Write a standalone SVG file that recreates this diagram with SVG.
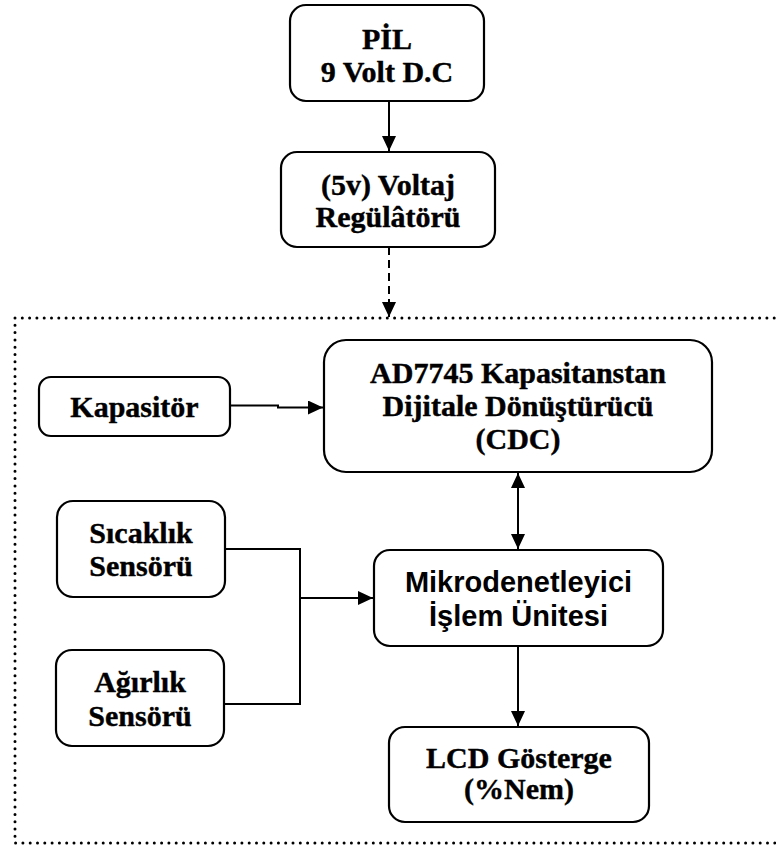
<svg xmlns="http://www.w3.org/2000/svg" width="776" height="845" viewBox="0 0 776 845">
<style>
.box{fill:#fff;stroke:#000;stroke-width:2.2}
.t{font-family:"Liberation Serif","Times New Roman",serif;font-weight:bold;font-size:30px;text-anchor:middle;fill:#000;stroke:#000;stroke-width:0.4}
.a{font-family:"Liberation Sans",Arial,sans-serif;font-weight:bold;font-size:29px;text-anchor:middle;fill:#000}
.c{fill:none;stroke:#000;stroke-width:2}
</style>
<defs>
<marker id="ah" markerUnits="userSpaceOnUse" markerWidth="16" markerHeight="14" refX="15" refY="7" orient="auto-start-reverse">
<path d="M0,0 L15,7 L0,14 Z" fill="#000"/>
</marker>
</defs>
<rect x="0" y="0" width="776" height="845" fill="#fff"/>
<path d="M15,318 H776 M15,318 V843 H776" fill="none" stroke="#000" stroke-width="3" stroke-linecap="round" stroke-dasharray="0 7.3"/>
<g id="connectors">
<line class="c" x1="389" y1="101" x2="389" y2="151" marker-end="url(#ah)"/>
<line class="c" x1="389" y1="247" x2="389" y2="317" stroke-dasharray="8 5" marker-end="url(#ah)"/>
<path class="c" d="M230,405.5 H278 V407.5 H323" marker-end="url(#ah)"/>
<line class="c" x1="518" y1="473" x2="518" y2="549" marker-start="url(#ah)" marker-end="url(#ah)"/>
<path class="c" d="M225,549 H300 V704 H224"/>
<line class="c" x1="300" y1="598" x2="373" y2="598" marker-end="url(#ah)"/>
<line class="c" x1="518" y1="646" x2="518" y2="726" marker-end="url(#ah)"/>
</g>
<g id="pil">
<rect class="box" x="290" y="5" width="194" height="96" rx="16"/>
<text class="t" x="387" y="49">PİL</text>
<text class="t" x="387" y="82">9 Volt D.C</text>
</g>
<g id="regulator">
<rect class="box" x="281" y="152" width="214" height="95" rx="16"/>
<text class="t" x="388" y="195">(5v) Voltaj</text>
<text class="t" x="388" y="227">Regülâtörü</text>
</g>
<g id="kapasitor">
<rect class="box" x="39" y="377" width="191" height="59" rx="12"/>
<text class="t" x="134.5" y="417">Kapasitör</text>
</g>
<g id="cdc">
<rect class="box" x="324" y="340" width="388" height="132" rx="22"/>
<text class="t" x="518" y="383">AD7745 Kapasitanstan</text>
<text class="t" x="518" y="416">Dijitale Dönüştürücü</text>
<text class="t" x="518" y="449">(CDC)</text>
</g>
<g id="sicaklik">
<rect class="box" x="57" y="501" width="168" height="96" rx="16"/>
<text class="t" x="141" y="543">Sıcaklık</text>
<text class="t" x="141" y="576">Sensörü</text>
</g>
<g id="agirlik">
<rect class="box" x="56" y="650" width="168" height="96" rx="16"/>
<text class="t" x="140" y="692">Ağırlık</text>
<text class="t" x="140" y="726">Sensörü</text>
</g>
<g id="mikro">
<rect class="box" x="374" y="550" width="289" height="96" rx="16"/>
<text class="a" x="518.5" y="592">Mikrodenetleyici</text>
<text class="a" x="518.5" y="626">İşlem Ünitesi</text>
</g>
<g id="lcd">
<rect class="box" x="389" y="727" width="260" height="95" rx="16"/>
<text class="t" x="519" y="768">LCD Gösterge</text>
<text class="t" x="519" y="799">(%Nem)</text>
</g>
</svg>
